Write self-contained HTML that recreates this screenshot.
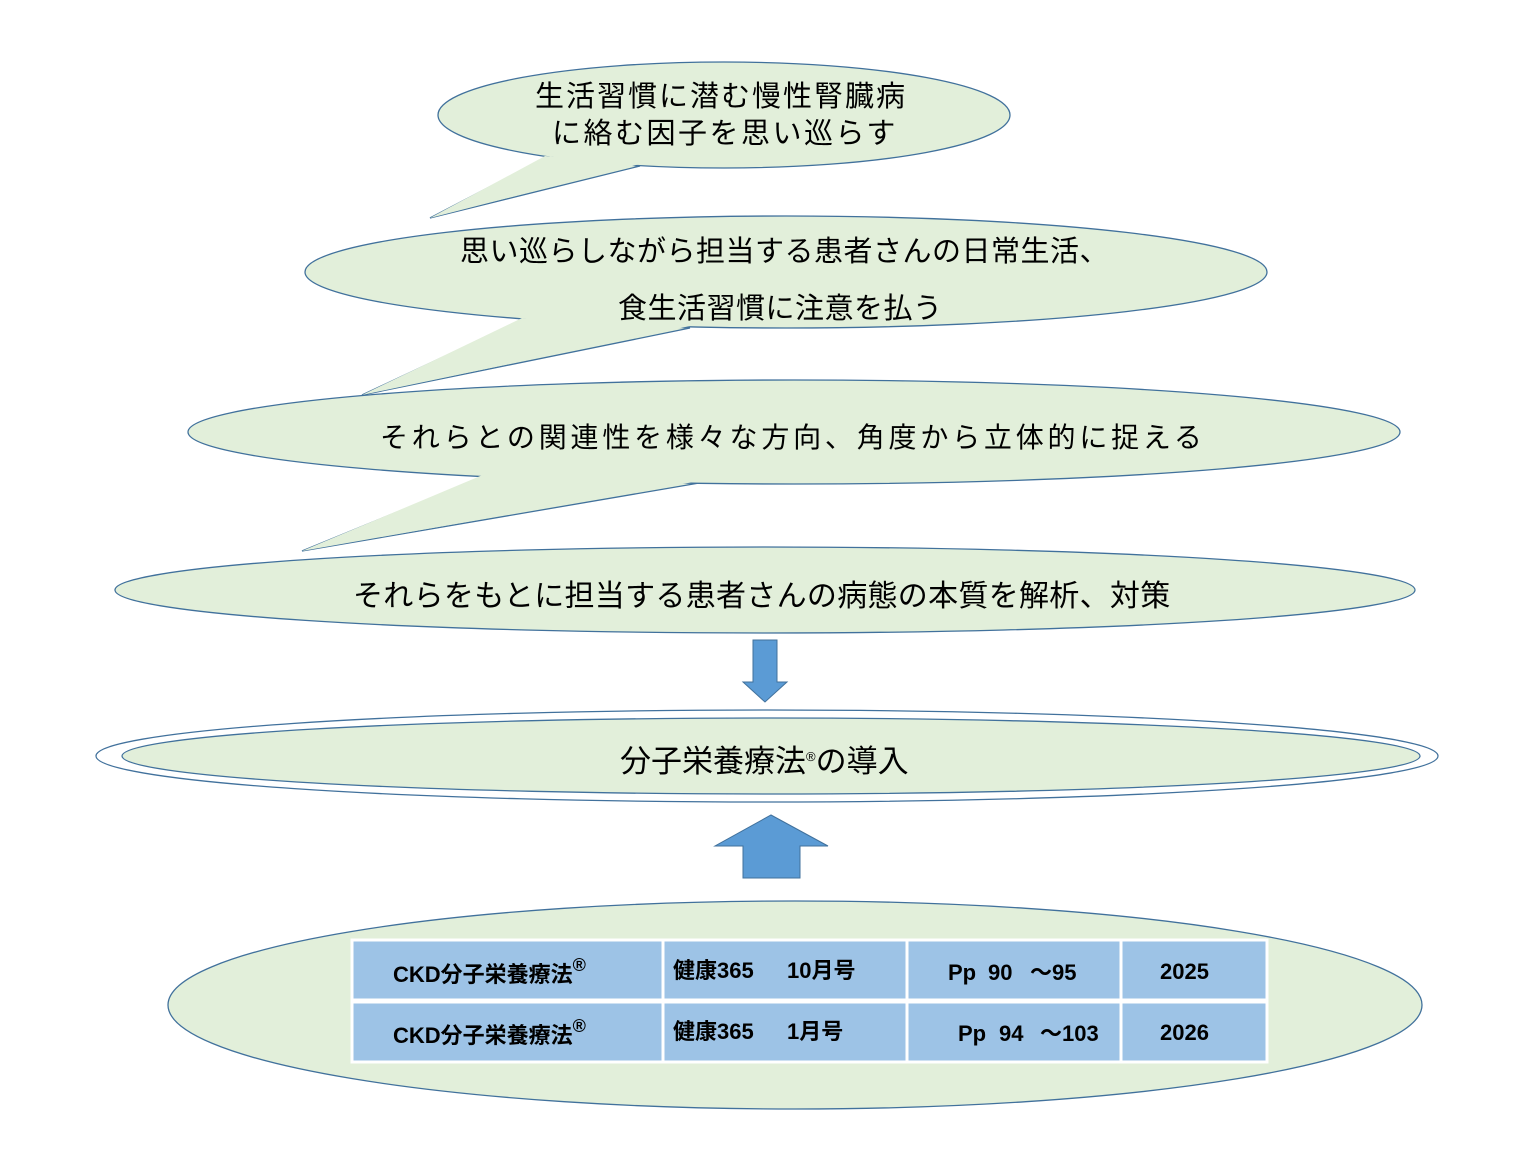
<!DOCTYPE html>
<html><head><meta charset="utf-8"><style>
body{margin:0;background:#fff;}
svg text{font-family:"Liberation Sans","Noto Sans CJK JP",sans-serif;fill:#000;}
</style></head><body>
<svg width="1527" height="1145" viewBox="0 0 1527 1145" xmlns="http://www.w3.org/2000/svg">
<g fill="#e2efda" stroke="#41719c" stroke-width="1.3">
<polygon points="545,158 430,218 640,166"/>
<ellipse cx="724" cy="115" rx="286" ry="53"/>
<polygon points="545,156 430,218 640,164" stroke="none"/>
<polygon points="522,320 362,395 690,328"/>
<ellipse cx="786" cy="272" rx="481" ry="56"/>
<polygon points="522,318 362,395 690,326" stroke="none"/>
<polygon points="485,476 302,551 705,482"/>
<ellipse cx="794" cy="432" rx="606" ry="52"/>
<polygon points="485,474 302,551 705,480" stroke="none"/>
<ellipse cx="765" cy="590" rx="650" ry="43"/>
<ellipse cx="767" cy="756" rx="671" ry="46" fill="#fff"/>
<ellipse cx="771" cy="756" rx="649" ry="38"/>
<ellipse cx="795" cy="1005" rx="627" ry="104"/>
</g>
<polygon points="753,640 777,640 777,682 787,682 765,702 743,682 753,682" fill="#5b9bd5" stroke="#41719c"/>
<polygon points="771,815 828,846 800,846 800,878 743,878 743,846 715,846" fill="#5b9bd5" stroke="#41719c"/>
<g fill="#9dc3e6" stroke="#fff" stroke-width="3">
<rect x="352" y="940" width="311" height="60"/><rect x="663" y="940" width="244" height="60"/><rect x="907" y="940" width="214" height="60"/><rect x="1121" y="940" width="146" height="60"/>
<rect x="352" y="1002" width="311" height="60"/><rect x="663" y="1002" width="244" height="60"/><rect x="907" y="1002" width="214" height="60"/><rect x="1121" y="1002" width="146" height="60"/>
</g>
<g font-size="29">
<text x="535" y="106" letter-spacing="2">生活習慣に潜む慢性腎臓病</text>
<text x="552" y="143" letter-spacing="2.5">に絡む因子を思い巡らす</text>
<text x="460" y="261" font-size="29" letter-spacing="0.5">思い巡らしながら担当する患者さんの日常生活、</text>
<text x="618" y="318" letter-spacing="0.5">食生活習慣に注意を払う</text>
<text x="380" y="447" font-size="28" letter-spacing="3.8">それらとの関連性を様々な方向、角度から立体的に捉える</text>
<text x="353" y="606" font-size="30" letter-spacing="0.3">それらをもとに担当する患者さんの病態の本質を解析、対策</text>
<text x="620" y="772" font-size="31">分子栄養療法<tspan font-size="13" dy="-11">®</tspan><tspan dy="11">の導入</tspan></text>
</g>
<g font-size="22" font-weight="bold">
<text x="393" y="982">CKD分子栄養療法<tspan dy="-11" font-size="18">®</tspan></text>
<text x="673" y="978">健康365</text><text x="787" y="978">10月号</text>
<text x="948" y="980">Pp</text><text x="988" y="980">90</text><text x="1030" y="980">～95</text>
<text x="1160" y="979">2025</text>
<text x="393" y="1043">CKD分子栄養療法<tspan dy="-11" font-size="18">®</tspan></text>
<text x="673" y="1039">健康365</text><text x="787" y="1039">1月号</text>
<text x="958" y="1041">Pp</text><text x="999" y="1041">94</text><text x="1040" y="1041">～103</text>
<text x="1160" y="1040">2026</text>
</g>
</svg>
</body></html>
